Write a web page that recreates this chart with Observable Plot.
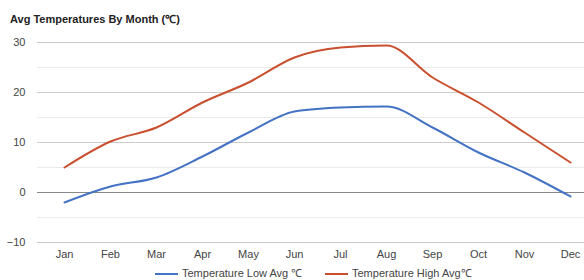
<!DOCTYPE html>
<html>
<head>
<meta charset="utf-8">
<script src="https://cdn.jsdelivr.net/npm/d3@7"></script>
<script src="https://cdn.jsdelivr.net/npm/@observablehq/plot@0.6"></script>
<style>
  html, body { margin: 0; padding: 0; background: #fff; }
  body { width: 584px; height: 280px; position: relative; overflow: hidden; font-family: "Liberation Sans", Arial, sans-serif; }
  #title { position: absolute; left: 10px; top: 11px; font-size: 11px; font-weight: bold; color: #222; }
  #chart { position: absolute; left: 0; top: 30px; }
  #legend { position: absolute; left: 0; top: 265px; width: 584px; font-size: 11px; color: #444; }
  .item { position: absolute; top: 0; white-space: nowrap; }
  .item svg { vertical-align: middle; margin-right: 4px; }
</style>
</head>
<body>
<div id="title">Avg Temperatures By Month (℃)</div>
<div id="chart"></div>
<div id="legend"></div>
<script>
const months = ["Jan","Feb","Mar","Apr","May","Jun","Jul","Aug","Sep","Oct","Nov","Dec"];
const lowAvg  = [-2, 1.2, 3, 7.2, 12, 16.2, 17, 17.2, 13, 8, 4, -0.8];
const highAvg = [5, 10.2, 13, 18, 22, 27, 29, 29.4, 23, 18, 12, 6];
const seriesNames = ["Temperature Low Avg ℃", "Temperature High Avg℃"];
const seriesColors = ["#4472c4", "#c9502f"];
const yTicks = [-10, 0, 10, 20, 30];
const yMinor = [-5, 5, 15, 25];

const rows = [];
months.forEach((m, i) => {
  rows.push({month: m, value: lowAvg[i], series: seriesNames[0]});
  rows.push({month: m, value: highAvg[i], series: seriesNames[1]});
});

const chart = Plot.plot({
  width: 584,
  height: 232,
  marginLeft: 37,
  marginRight: 0,
  marginTop: 12,
  marginBottom: 20,
  style: {fontFamily: "Liberation Sans, Arial, sans-serif", fontSize: "11px", color: "#444", background: "#fff"},
  x: {type: "point", domain: months, range: [62, 571], padding: 0, label: null},
  y: {domain: [-10, 30], label: null},
  color: {domain: seriesNames, range: seriesColors},
  marks: [
    Plot.ruleY(yMinor, {stroke: "#ebebeb", strokeWidth: 1}),
    Plot.ruleY(yTicks.filter(d => d !== 0), {stroke: "#cccccc", strokeWidth: 1}),
    Plot.ruleY([0], {stroke: "#888888", strokeWidth: 1}),
    Plot.axisY({ticks: yTicks, tickSize: 0, tickPadding: 12, fill: "#444", label: null}),
    Plot.axisX({tickSize: 0, tickPadding: 8, fill: "#444", label: null}),
    Plot.line(rows, {x: "month", y: "value", z: "series", stroke: "series", strokeWidth: 2, curve: "monotone-x"})
  ]
});
document.getElementById("chart").appendChild(chart);

const legend = document.getElementById("legend");
const lefts = [155, 325];
seriesNames.forEach((name, i) => {
  const div = document.createElement("div");
  div.className = "item";
  div.style.left = lefts[i] + "px";
  div.innerHTML = `<svg width="23" height="4"><line x1="0" x2="23" y1="2" y2="2" stroke="${seriesColors[i]}" stroke-width="2"/></svg>${name}`;
  legend.appendChild(div);
});
</script>
</body>
</html>
